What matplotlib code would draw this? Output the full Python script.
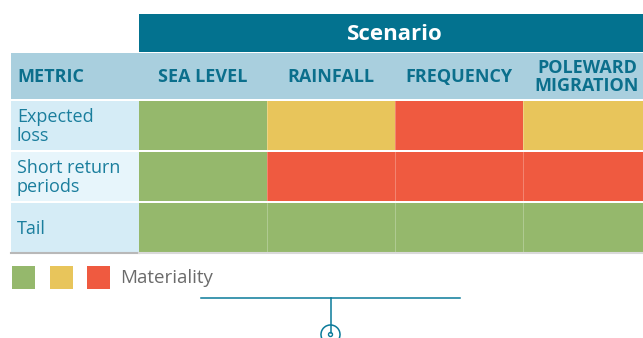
import numpy as np
import matplotlib.pyplot as plt
from matplotlib.patches import Rectangle, Circle, Arc

# =============================================================================
# DATA
# -----------------------------------------------------------------------------
title = 'Scenario'
corner_label = 'METRIC'
scenarios = ['SEA LEVEL', 'RAINFALL', 'FREQUENCY', 'POLEWARD\nMIGRATION']
metrics = ['Expected\nloss', 'Short return\nperiods', 'Tail']
# materiality level per metric (rows) and scenario (columns): 0 low, 1 mid, 2 high
materiality = [[0, 1, 2, 1],
               [0, 2, 2, 2],
               [0, 0, 0, 0]]
legend_label = 'Materiality'

# =============================================================================
# STYLE
# -----------------------------------------------------------------------------
level_colors = ['#95B86C', '#E8C55B', '#EF5A40']
dark_blue = '#03728F'
head_blue = '#A9CFDE'
metric_bg = ['#D5ECF6', '#E7F5FB', '#D5ECF6']
head_text = '#0B6F8C'
row_text = '#1A7E9D'
font = 'Open Sans'

W, H = 643, 338
x_left, x_grid, col_w = 11, 139, 128
y_title, h_title = 14, 38
y_head, h_head = 53, 46
y_row0, h_row, gap = 101, 49, 2

fig = plt.figure(figsize=(W / 100, H / 100), dpi=100)
ax = fig.add_axes([0, 0, 1, 1])
ax.set_xlim(0, W)
ax.set_ylim(H, 0)
ax.axis('off')

n_col = len(scenarios)
x_right = x_grid + n_col * col_w

# title band
ax.add_patch(Rectangle((x_grid, y_title), x_right - x_grid, h_title, color=dark_blue, lw=0))
ax.text((x_grid + x_right) / 2, y_title + h_title / 2 + 1, title, color='white',
        fontsize=16, fontweight='bold', family=font, ha='center', va='center')

# column header band
ax.add_patch(Rectangle((x_left, y_head), x_right - x_left, h_head, color=head_blue, lw=0))
ax.text(x_left + 6, y_head + h_head / 2 + 1, corner_label, color=head_text, fontsize=13,
        fontweight='bold', family=font, ha='left', va='center')
for j, s in enumerate(scenarios):
    ax.text(x_grid + (j + 0.5) * col_w, y_head + h_head / 2 + 1, s, color=head_text,
            fontsize=13, fontweight='bold', family=font, ha='center', va='center',
            linespacing=1.0)

# rows
for i, m in enumerate(metrics):
    y0 = y_row0 + i * (h_row + gap)
    ax.add_patch(Rectangle((x_left, y0), x_grid - x_left, h_row, color=metric_bg[i], lw=0))
    ax.text(x_left + 6, y0 + h_row / 2 + 1, m, color=row_text, fontsize=13, family=font,
            ha='left', va='center', linespacing=1.12)
    for j, lvl in enumerate(materiality[i]):
        ax.add_patch(Rectangle((x_grid + j * col_w, y0), col_w, h_row,
                               facecolor=level_colors[lvl], lw=0))
        # faint separator
        if j > 0:
            ax.plot([x_grid + j * col_w] * 2, [y0, y0 + h_row], color='white',
                    lw=0.6, alpha=0.3)

# bottom rule
y_end = y_row0 + len(metrics) * (h_row + gap) - gap
ax.plot([x_left, x_grid], [y_end + 1, y_end + 1], color='#B8B8B8', lw=1.5)
ax.plot([x_grid, x_right], [y_end + 1, y_end + 1], color='#D9D9D9', lw=1.5)

# legend
for k, c in enumerate(level_colors):
    ax.add_patch(Rectangle((12 + k * 37.5, 266), 23, 23, color=c, lw=0))
ax.text(120, 278, legend_label, color='#6B6B6B', fontsize=13.5, family=font,
        ha='left', va='center')

# connector line and icon
ax.plot([201, 460], [298, 298], color='#0A7A9A', lw=1.1)
ax.plot([330.5, 330.5], [298, 332.5], color='#0A7A9A', lw=1.1)
ax.add_patch(Arc((330.5, 334.5), 19, 19, theta1=110, theta2=430, color='#0A7A9A', lw=1.1))
ax.add_patch(Circle((330.5, 334.5), 2, fill=False, color='#0A7A9A', lw=1.0))

plt.savefig('out.png', dpi=100)
